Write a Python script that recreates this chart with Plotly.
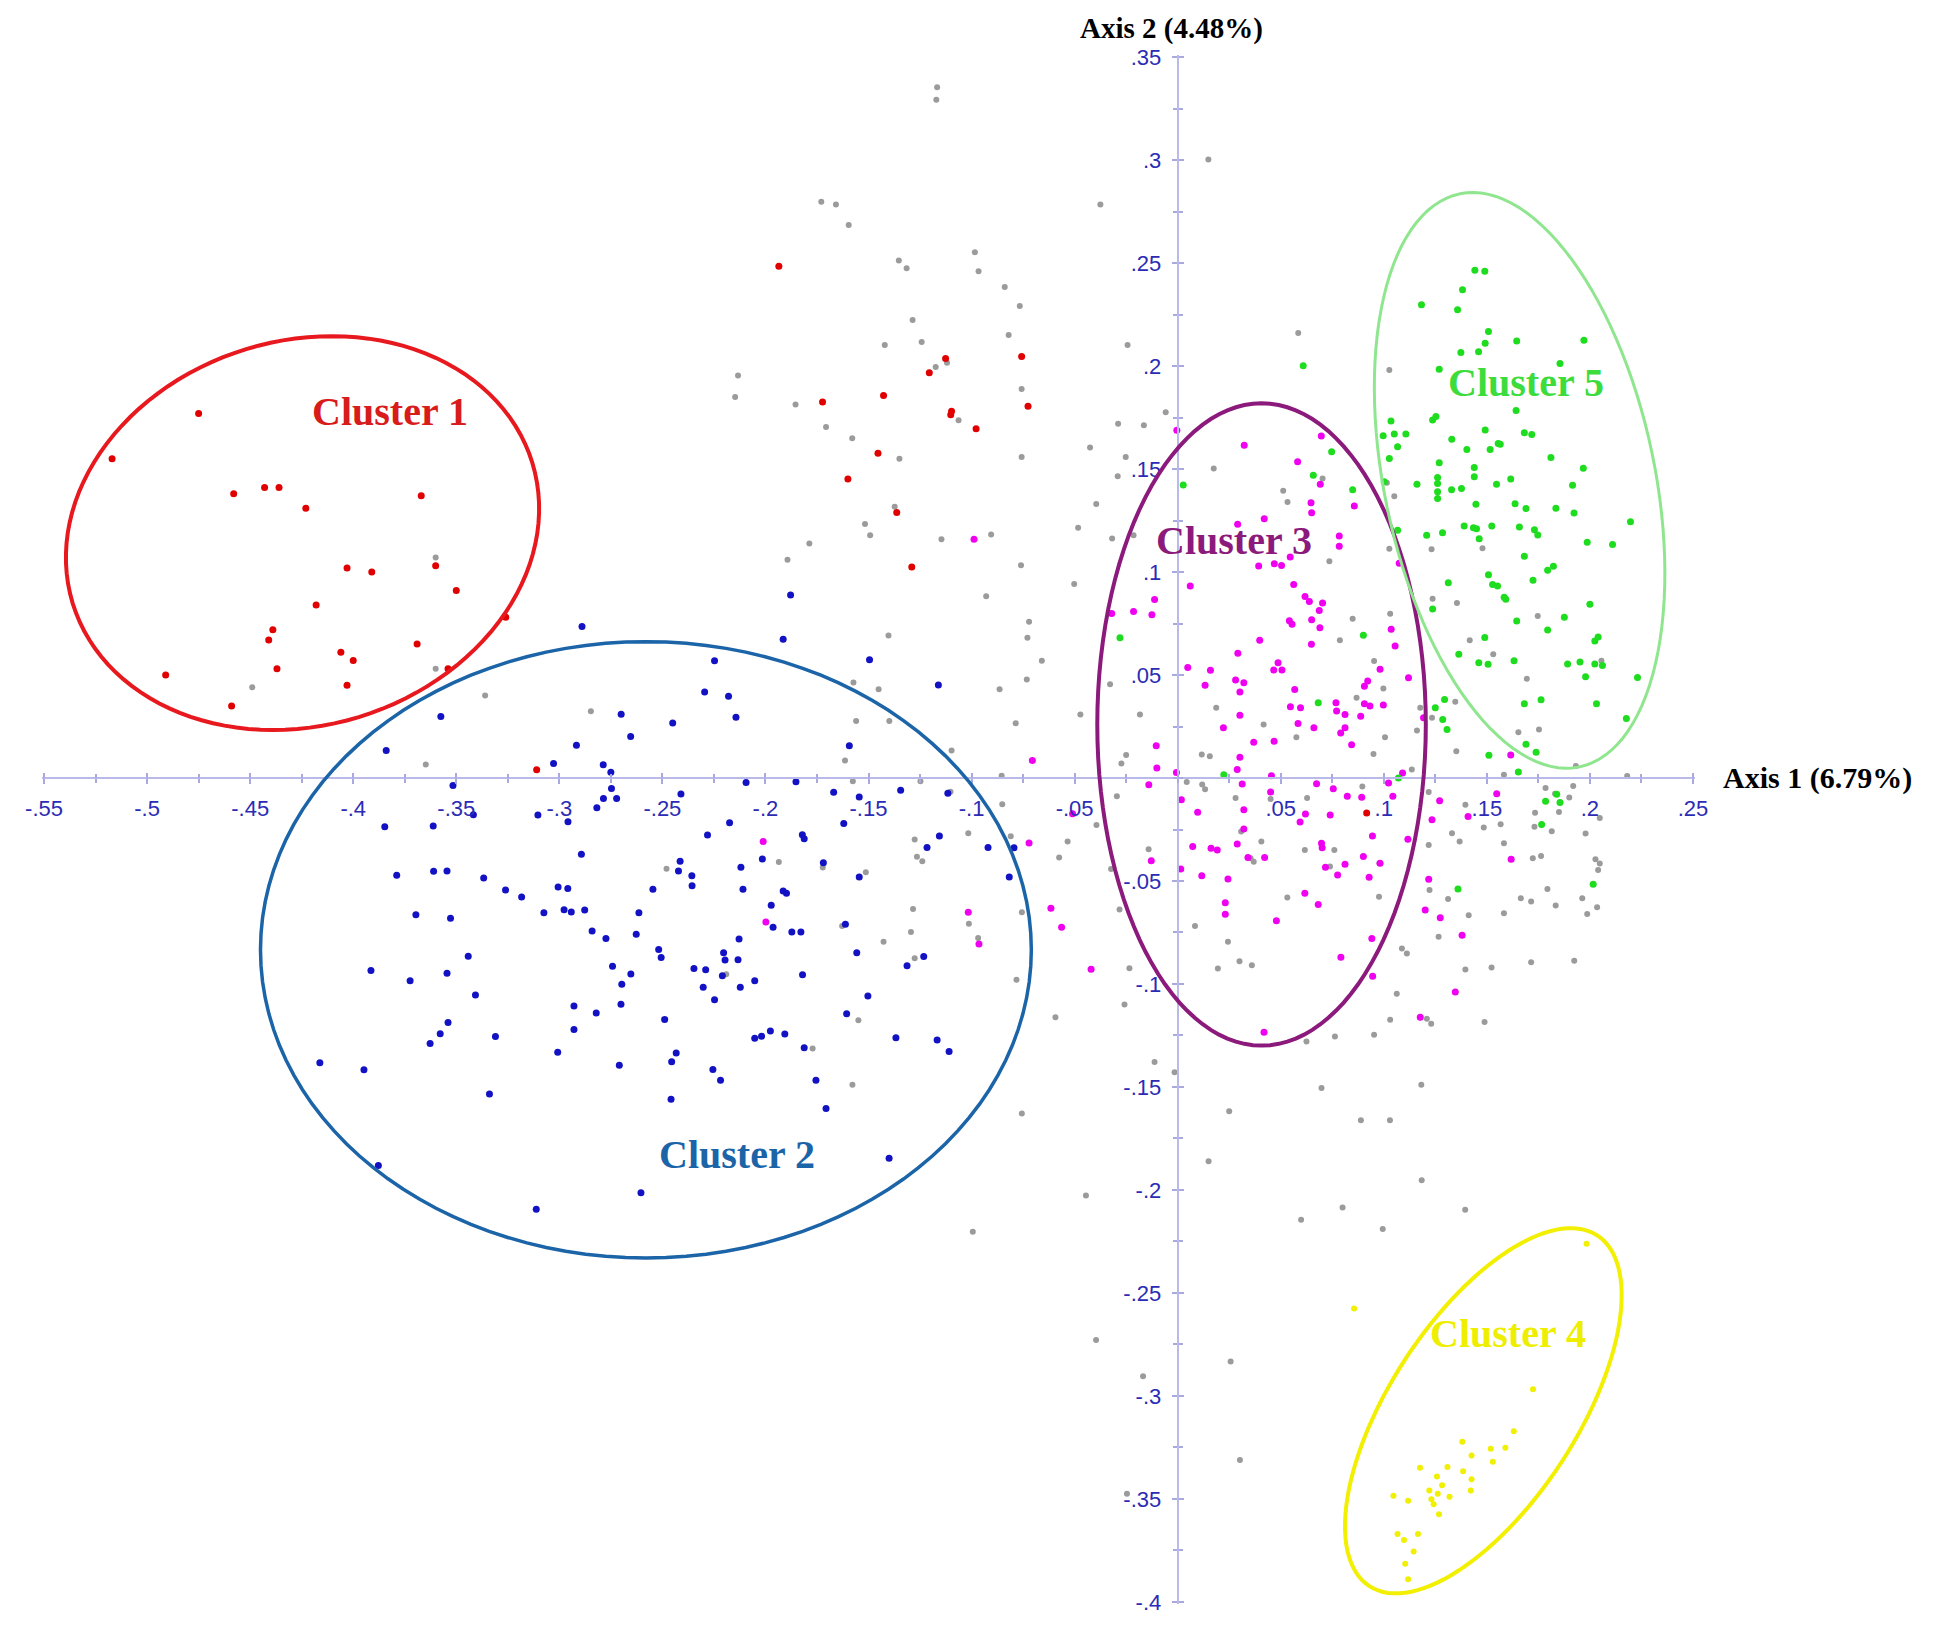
import numpy as np
import plotly.graph_objects as go

# ---- data ----
grey_pts = [
    (-0.360, 0.107), (-0.449, 0.044), (-0.360, 0.053), (-0.336, 0.040),
    (-0.3648, 0.0066), (-0.2847, 0.0324), (-0.248, -0.044),
    # upper middle
    (-0.1167, 0.3353), (-0.1171, 0.3293), (-0.1729, 0.2798), (-0.1658, 0.2784), (-0.1596, 0.2685),
    (-0.0375, 0.2784), (-0.0984, 0.2553), (-0.1353, 0.2512), (-0.1315, 0.2475), (-0.0966, 0.246),
    (-0.0839, 0.2384), (-0.0766, 0.2291), (-0.1286, 0.2224), (-0.082, 0.2151), (-0.1421, 0.2102),
    (-0.1242, 0.2117), (-0.0243, 0.2102), (-0.2133, 0.1954), (-0.2147, 0.185), (-0.1854, 0.1813),
    (-0.1706, 0.1704), (-0.1174, 0.1995), (-0.1119, 0.2016), (-0.0757, 0.1889), (-0.1063, 0.1737),
    (-0.0058, 0.1776), (-0.0289, 0.172), (-0.0164, 0.1712), (-0.1579, 0.1649), (-0.135, 0.155),
    (-0.0757, 0.1558), (-0.0425, 0.1605), (-0.0252, 0.1558), (-0.0291, 0.1465), (-0.0395, 0.133),
    (-0.1373, 0.1317), (-0.1517, 0.1233), (-0.1787, 0.1138), (-0.1492, 0.1179), (-0.1146, 0.1159),
    (-0.0905, 0.1182), (-0.0483, 0.1215), (-0.0318, 0.1163), (-0.0214, 0.1179), (-0.1893, 0.106),
    (-0.076, 0.1033),
    # middle, left of the vertical axis
    (-0.0502, 0.0942), (-0.0929, 0.0882), (-0.0721, 0.0759), (-0.1403, 0.0692), (-0.0729, 0.0681),
    (-0.0659, 0.0569), (-0.0732, 0.0478), (-0.1573, 0.0464), (-0.1451, 0.0431), (-0.0864, 0.0431),
    (-0.0472, 0.0308), (-0.0183, 0.0308), (-0.156, 0.0277), (-0.1399, 0.0277), (-0.0786, 0.0266),
    (-0.1097, 0.0134), (-0.1614, 0.0085), (-0.025, 0.0112), (-0.0273, 0.0071), (-0.0854, 0.0011),
    (-0.1248, -0.0016), (-0.1576, -0.0016), (-0.1102, -0.0067), (-0.0851, -0.0127), (-0.0295, -0.0089),
    (-0.0394, -0.0228), (-0.0534, -0.0308), (-0.081, -0.0283), (-0.1016, -0.0268), (-0.1276, -0.0299),
    (-0.1265, -0.0382), (-0.1239, -0.0404), (-0.0575, -0.0386), (-0.0141, -0.0346), (-0.0323, -0.0442),
    (-0.1935, -0.0408), (-0.1722, -0.0435), (-0.1513, -0.0458), (-0.1284, -0.0636), (-0.0756, -0.0652),
    (-0.0282, -0.0638), (-0.1013, -0.0708), (-0.0968, -0.0777), (-0.1294, -0.0748), (-0.1427, -0.0795),
    (-0.1628, -0.0719), (-0.1276, -0.0875), (-0.0782, -0.098), (-0.0234, -0.0924), (-0.0258, -0.11),
    (-0.0593, -0.1161), (-0.1549, -0.1176), (-0.1771, -0.1313), (-0.1578, -0.1489), (-0.0112, -0.1379),
    (-0.0015, -0.1429), (-0.0756, -0.1629), (-0.0445, -0.2027), (-0.0994, -0.2203), (-0.219, -0.0953),
    # upper right
    (0.0149, 0.3003), (0.0585, 0.216), (0.1027, 0.1981), (0.0175, 0.1503), (0.0703, 0.1454),
    (0.0512, 0.1394), (0.0533, 0.134), (0.1015, 0.1433), (0.1051, 0.1368), (0.1027, 0.1113),
    (0.0736, 0.1052), (0.1232, 0.111), (0.1479, 0.1116), (0.1237, 0.087), (0.1355, 0.0849),
    (0.0849, 0.0773), (0.1031, 0.0797),
    # around cluster 3
    (-0.0328, 0.0455), (0.0044, -0.0019), (0.0119, -0.0032), (0.0133, -0.0054), (0.0117, 0.0114),
    (0.0156, 0.0106), (0.0187, 0.0341), (0.0417, 0.026), (0.0576, 0.0198), (0.0787, 0.0669),
    (0.0953, 0.0568), (0.0998, 0.0435), (0.0868, 0.039), (0.1006, 0.0198), (0.095, 0.0117),
    (0.1161, 0.0231), (0.1136, 0.0041), (0.1177, 0.0341), (0.1234, 0.0292), (0.1347, 0.037),
    (0.1352, 0.013), (0.1417, 0.0669), (0.1531, 0.0601), (0.1583, 0.0016), (0.1218, -0.0068),
    (0.1396, -0.013), (0.1567, -0.0224), (0.1485, -0.024), (0.1331, -0.0268), (0.1368, -0.0308),
    (0.1218, -0.0325), (0.1583, -0.0317), (0.1222, -0.0544), (0.1312, -0.0588), (0.1412, -0.0666),
    (0.1583, -0.0657), (0.1266, -0.0771), (0.1088, -0.0828), (0.1112, -0.0852), (0.1396, -0.093),
    (0.1523, -0.092), (0.1063, -0.1047), (0.1031, -0.1174), (0.1209, -0.1169), (0.123, -0.1193),
    (0.1489, -0.1185), (0.0953, -0.1247), (0.0763, -0.1255), (0.0625, -0.1279), (0.1182, -0.1489),
    (0.0698, -0.1505), (0.0281, -0.0097), (0.0451, -0.0102), (0.0628, -0.0097), (0.0308, -0.026),
    (0.0354, -0.039), (0.0369, -0.0406), (0.0406, -0.0308), (0.0617, -0.0349), (0.076, -0.0349),
    (0.0979, -0.0414), (0.0739, -0.043), (0.0896, -0.0041), (0.0532, -0.058), (0.0977, -0.0576),
    (0.0084, -0.0718), (0.0244, -0.0795), (0.0195, -0.0925), (0.03, -0.089), (0.036, -0.0909),
    # right strip
    (0.1747, 0.0787), (0.1694, 0.0482), (0.2056, 0.0569), (0.1653, 0.0222), (0.1753, 0.0235),
    (0.1932, 0.0058), (0.2181, 0.001), (0.1785, -0.0048), (0.1919, -0.0039), (0.1831, -0.0077),
    (0.19, -0.0095), (0.185, -0.0165), (0.1734, -0.0169), (0.2048, -0.0194), (0.1731, -0.0237),
    (0.1815, -0.0258), (0.1979, -0.0269), (0.1723, -0.039), (0.1763, -0.0379), (0.2027, -0.0395),
    (0.2048, -0.0415), (0.204, -0.0447), (0.1794, -0.0539), (0.1665, -0.0584), (0.1715, -0.06),
    (0.1834, -0.0619), (0.1963, -0.0584), (0.2035, -0.0627), (0.1987, -0.066), (0.1715, -0.0894),
    (0.1924, -0.0887),
    # lower part
    (0.025, -0.1618), (0.0889, -0.1662), (0.103, -0.1662), (0.015, -0.186), (0.1184, -0.1953),
    (0.08, -0.2085), (0.1395, -0.2096), (0.0599, -0.2144), (0.0995, -0.219), (-0.0396, -0.2728),
    (0.0257, -0.2833), (-0.0168, -0.2904), (0.0302, -0.3311), (-0.0246, -0.3475),
]

red_pts = [
    (-0.475, 0.177), (-0.517, 0.155), (-0.458, 0.138), (-0.443, 0.141), (-0.436, 0.141),
    (-0.423, 0.131), (-0.367, 0.137), (-0.403, 0.102), (-0.391, 0.100), (-0.360, 0.103),
    (-0.350, 0.091), (-0.418, 0.084), (-0.326, 0.078), (-0.439, 0.072), (-0.441, 0.067),
    (-0.369, 0.065), (-0.406, 0.061), (-0.400, 0.057), (-0.437, 0.053), (-0.491, 0.050),
    (-0.403, 0.045), (-0.459, 0.035), (-0.354, 0.053), (-0.311, 0.004),
    (-0.1935, 0.2485), (-0.1723, 0.1826), (-0.1427, 0.1857), (-0.1205, 0.1967), (-0.1126, 0.2036),
    (-0.1097, 0.178), (-0.1101, 0.1764), (-0.0978, 0.1696), (-0.0757, 0.2046), (-0.0726, 0.1805),
    (-0.1454, 0.1576), (-0.16, 0.1452), (-0.1363, 0.1289), (-0.129, 0.1024), (0.0917, -0.017),
]

blue_pts = [
    (-0.289, 0.0736), (-0.3575, 0.0298), (-0.384, 0.0133), (-0.270, 0.0309), (-0.245, 0.0267),
    (-0.2654, 0.0201), (-0.2917, 0.0159), (-0.3028, 0.0070), (-0.2787, 0.0064), (-0.275, 0.0028),
    (-0.2747, -0.0051), (-0.2786, -0.0099), (-0.2722, -0.0099), (-0.2818, -0.0144), (-0.241, -0.0078),
    (-0.3516, -0.0036), (-0.3417, -0.0178), (-0.3104, -0.0180), (-0.2958, -0.0212), (-0.3847, -0.0237),
    (-0.3612, -0.0233), (-0.2893, -0.0370), (-0.3789, -0.0472), (-0.361, -0.0453), (-0.3545, -0.0451),
    (-0.3367, -0.0485), (-0.3261, -0.0544), (-0.3183, -0.0578), (-0.3006, -0.0529), (-0.2959, -0.0537),
    (-0.2414, -0.0404), (-0.2422, -0.0451), (-0.2357, -0.0474), (-0.2356, -0.0523), (-0.2546, -0.0540),
    (-0.3696, -0.0664), (-0.3528, -0.0681), (-0.3075, -0.0654), (-0.2977, -0.0639), (-0.2942, -0.0650),
    (-0.2877, -0.0641), (-0.2614, -0.0654), (-0.2841, -0.0743), (-0.2774, -0.0779), (-0.2627, -0.0758),
    (-0.2518, -0.0832), (-0.2506, -0.0872), (-0.2347, -0.0925), (-0.3442, -0.0865), (-0.3914, -0.0935),
    (-0.3724, -0.0984), (-0.3545, -0.0948), (-0.3407, -0.1054), (-0.2742, -0.0914), (-0.2653, -0.0952),
    (-0.2697, -0.1001), (-0.2701, -0.1098), (-0.2929, -0.1107), (-0.2821, -0.1141), (-0.2929, -0.1221),
    (-0.2489, -0.1172), (-0.354, -0.1187), (-0.3578, -0.1242), (-0.3627, -0.1289), (-0.331, -0.1255),
    (-0.3008, -0.1331), (-0.2709, -0.1394), (-0.2433, -0.1335), (-0.2455, -0.1378), (-0.2458, -0.1559),
    (-0.4162, -0.1382), (-0.3948, -0.1416), (-0.3339, -0.1534), (-0.3878, -0.1881), (-0.3112, -0.2093),
    (-0.2604, -0.2014),
    (-0.1878, 0.0888), (-0.1914, 0.0674), (-0.2247, 0.0569), (-0.1495, 0.0574), (-0.1161, 0.0451),
    (-0.2295, 0.0417), (-0.2179, 0.0397), (-0.2143, 0.0295), (-0.1593, 0.0156), (-0.2094, -0.0022),
    (-0.1852, -0.0018), (-0.1669, -0.0069), (-0.1545, -0.0092), (-0.1344, -0.006), (-0.1115, -0.0074),
    (-0.2174, -0.0217), (-0.2281, -0.0277), (-0.162, -0.0221), (-0.1821, -0.0275), (-0.1812, -0.0295),
    (-0.1156, -0.0281), (-0.1216, -0.0337), (-0.092, -0.0337), (-0.0794, -0.0339), (-0.0817, -0.048),
    (-0.1719, -0.0411), (-0.1545, -0.048), (-0.2015, -0.0393), (-0.2119, -0.0433), (-0.2109, -0.054),
    (-0.1914, -0.0549), (-0.1898, -0.056), (-0.1972, -0.0618), (-0.1963, -0.0725), (-0.1872, -0.0748),
    (-0.1828, -0.0748), (-0.1612, -0.071), (-0.2128, -0.0781), (-0.2203, -0.0848), (-0.2196, -0.0884),
    (-0.2133, -0.0882), (-0.229, -0.0931), (-0.2209, -0.096), (-0.2302, -0.1016), (-0.2122, -0.1016),
    (-0.2247, -0.1076), (-0.2052, -0.0984), (-0.182, -0.0955), (-0.1557, -0.0848), (-0.1313, -0.0911),
    (-0.1232, -0.0866), (-0.1503, -0.1058), (-0.1606, -0.1145), (-0.2052, -0.1263), (-0.2019, -0.1254),
    (-0.1976, -0.1228), (-0.1906, -0.1243), (-0.1812, -0.131), (-0.1367, -0.1261), (-0.1167, -0.1272),
    (-0.1109, -0.1328), (-0.2255, -0.1415), (-0.2218, -0.1467), (-0.1755, -0.1467), (-0.1706, -0.1605),
    (-0.14, -0.1846),
]

magenta_pts = [
    (-0.0988, 0.1159), (-0.0004, 0.1688),
    (-0.2011, -0.0308), (-0.1998, -0.0699), (-0.0705, 0.0085), (-0.0721, -0.0315), (-0.1016, -0.0652),
    (-0.0964, -0.0806), (-0.0615, -0.0632), (-0.0563, -0.0725), (-0.042, -0.0929), (-0.051, -0.0174),
    (-0.032, 0.0799), (-0.0214, 0.0808), (-0.0125, 0.0792), (-0.0112, 0.0866), (-0.0104, 0.0156),
    (-0.0101, 0.0049), (-0.0006, 0.0027), (-0.014, -0.0033), (0.0018, -0.0105), (-0.0128, -0.0402),
    (0.0015, -0.0442),
    (0.0323, 0.1616), (0.0582, 0.1535), (0.0697, 0.166), (0.0692, 0.1426), (0.0647, 0.1336),
    (0.065, 0.1288), (0.0857, 0.1321), (0.042, 0.1259), (0.0291, 0.1232), (0.0784, 0.1175),
    (0.0784, 0.1125), (0.0546, 0.1073), (0.0393, 0.1029), (0.0469, 0.104), (0.0504, 0.1032),
    (0.1075, 0.1043), (0.0061, 0.0932), (0.0563, 0.094), (0.0618, 0.0881), (0.0639, 0.0857),
    (0.0703, 0.0849), (0.0687, 0.0813), (0.0542, 0.0764), (0.065, 0.0768),
    (0.0398, 0.0669), (0.0292, 0.0606), (0.0049, 0.0536), (0.0159, 0.0523), (0.0133, 0.045),
    (0.0281, 0.0476), (0.0321, 0.0463), (0.0302, 0.0417), (0.0302, 0.0305), (0.0222, 0.0244),
    (0.0369, 0.0174), (0.0468, 0.0179), (0.0487, 0.056), (0.0466, 0.0524), (0.0506, 0.0524),
    (0.0568, 0.043), (0.0547, 0.0346), (0.0596, 0.0341), (0.0584, 0.0265), (0.0661, 0.0244),
    (0.0555, 0.0747), (0.069, 0.073), (0.0649, 0.0649), (0.0768, 0.0365), (0.0771, 0.0325),
    (0.0812, 0.0308), (0.0791, 0.0219), (0.0812, 0.0244), (0.0844, 0.0162), (0.0888, 0.03),
    (0.0906, 0.036), (0.0933, 0.0349), (0.0906, 0.0446), (0.0922, 0.0471), (0.0982, 0.0528),
    (0.0998, 0.0354), (0.1036, 0.0722), (0.1055, 0.0641), (0.112, 0.0487), (0.1193, 0.0292),
    (0.0302, 0.0101), (0.0289, 0.0041), (0.0313, -0.0029), (0.0455, 0.0011), (0.0451, -0.0068),
    (0.0097, -0.0166), (0.0321, -0.0154), (0.0674, -0.0028), (0.0755, -0.0052), (0.0823, -0.0089),
    (0.0893, -0.0094), (0.1023, -0.0024), (0.1044, -0.0089), (0.1091, 0.0024), (0.0594, -0.0214),
    (0.062, -0.0175), (0.074, -0.0179), (0.0321, -0.0247), (0.0289, -0.0321), (0.0341, -0.0386),
    (0.0422, -0.0386), (0.0073, -0.0333), (0.0162, -0.0341), (0.0192, -0.0349), (0.0698, -0.0317),
    (0.0701, -0.0338), (0.0812, -0.0419), (0.0717, -0.0433), (0.0776, -0.0471), (0.0901, -0.0381),
    (0.0945, -0.0281), (0.0982, -0.0414), (0.1117, -0.0297), (0.0929, -0.0482), (0.0117, -0.0474),
    (0.0244, -0.049), (0.0231, -0.0606), (0.0231, -0.0662), (0.0479, -0.0693), (0.0617, -0.056),
    (0.0682, -0.0614), (0.0942, -0.0779), (0.0792, -0.087), (0.0946, -0.0963), (0.0419, -0.1234),
    (0.1271, -0.011), (0.1234, -0.0203), (0.1218, -0.0492), (0.1201, -0.0641), (0.1274, -0.0679),
    (0.138, -0.0763), (0.1347, -0.1039), (0.1177, -0.1161), (0.1409, -0.0187),
    (0.1616, 0.0112), (0.1548, -0.0076), (0.1618, -0.0395),
]

green_pts = [
    (0.0027, 0.1423), (-0.028, 0.0681),
    (0.0609, 0.2001), (0.0658, 0.147), (0.0747, 0.1584), (0.0849, 0.14), (0.1442, 0.2465),
    (0.149, 0.246), (0.1382, 0.237), (0.1183, 0.2298), (0.1358, 0.2273), (0.1508, 0.2168),
    (0.1492, 0.2111), (0.1374, 0.2066), (0.146, 0.2069), (0.1269, 0.1984), (0.1035, 0.1733),
    (0.1237, 0.1738), (0.1253, 0.1755), (0.0997, 0.1662), (0.1051, 0.167), (0.1107, 0.167),
    (0.1067, 0.1608), (0.1027, 0.1551), (0.133, 0.1644), (0.1403, 0.1595), (0.1492, 0.1689),
    (0.1555, 0.1624), (0.1516, 0.1595), (0.1269, 0.153), (0.1261, 0.1459), (0.1161, 0.1426),
    (0.1261, 0.143), (0.1261, 0.139), (0.1261, 0.1357), (0.1439, 0.1507), (0.1439, 0.1462),
    (0.1329, 0.14), (0.1377, 0.1405), (0.1447, 0.1329), (0.1547, 0.1426), (0.1002, 0.1438),
    (0.1067, 0.1203), (0.1208, 0.1178), (0.1285, 0.1191), (0.139, 0.1224), (0.1435, 0.1215),
    (0.145, 0.121), (0.1524, 0.1224), (0.1463, 0.1162), (0.1508, 0.0987), (0.1528, 0.094),
    (0.1552, 0.0932), (0.1313, 0.0948), (0.1584, 0.0878), (0.1237, 0.0821),
    (0.0224, 0.0016), (0.0682, 0.0365), (0.0901, 0.0693), (0.1071, 0.0), (0.1364, 0.0601),
    (0.149, 0.0682), (0.1461, 0.056), (0.1506, 0.0552), (0.125, 0.0341), (0.1295, 0.0381),
    (0.1286, 0.0284), (0.1307, 0.0235), (0.151, 0.011), (0.136, -0.0539),
    (0.1645, 0.2122), (0.1971, 0.2125), (0.1855, 0.2012), (0.1642, 0.1784), (0.1682, 0.1676),
    (0.1718, 0.1668), (0.1565, 0.162), (0.1811, 0.1556), (0.1968, 0.1504), (0.1616, 0.1452),
    (0.1916, 0.1421), (0.169, 0.1308), (0.1637, 0.1331), (0.1835, 0.131), (0.1923, 0.1286),
    (0.1658, 0.1219), (0.1731, 0.1205), (0.1747, 0.118), (0.2197, 0.1244), (0.1987, 0.1144),
    (0.211, 0.1134), (0.1682, 0.1076), (0.1795, 0.1009), (0.1823, 0.1028), (0.1724, 0.096),
    (0.1592, 0.0868), (0.2, 0.0843), (0.1876, 0.0781), (0.1645, 0.0762), (0.1795, 0.0719),
    (0.2024, 0.0665), (0.204, 0.0685), (0.1632, 0.0569), (0.1892, 0.0554), (0.1952, 0.0563),
    (0.2024, 0.0554), (0.2061, 0.0546), (0.1979, 0.0492), (0.2231, 0.0488), (0.1682, 0.0361),
    (0.1763, 0.038), (0.2032, 0.0361), (0.2177, 0.0289), (0.169, 0.0164), (0.1739, 0.0125),
    (0.1653, 0.0029),
    (0.1785, -0.0113), (0.1839, -0.0079), (0.1855, -0.0119), (0.1766, -0.0226), (0.2016, -0.0516),
]

yellow_pts = [
    (0.0856, -0.2575), (0.1984, -0.2261), (0.1724, -0.2968), (0.1631, -0.3171), (0.1381, -0.3222),
    (0.1519, -0.3256), (0.159, -0.3252), (0.1426, -0.3289), (0.1529, -0.332), (0.1176, -0.3349),
    (0.1309, -0.3345), (0.1385, -0.3365), (0.1258, -0.3391), (0.1426, -0.3404), (0.1283, -0.3433),
    (0.1221, -0.3459), (0.1262, -0.3475), (0.1319, -0.3489), (0.1231, -0.3501), (0.1422, -0.3459),
    (0.1242, -0.3526), (0.1268, -0.3574), (0.1047, -0.3484), (0.1118, -0.3509), (0.1067, -0.367),
    (0.1098, -0.3699), (0.1166, -0.367), (0.1145, -0.3755), (0.1104, -0.3814), (0.1118, -0.389),
]

x_tickvals = [-0.55, -0.5, -0.45, -0.4, -0.35, -0.3, -0.25, -0.2, -0.15, -0.1, -0.05,
              0.05, 0.1, 0.15, 0.2, 0.25]
x_ticktext = ["-.55", "-.5", "-.45", "-.4", "-.35", "-.3", "-.25", "-.2", "-.15", "-.1", "-.05",
              ".05", ".1", ".15", ".2", ".25"]
y_tickvals = [0.35, 0.3, 0.25, 0.2, 0.15, 0.1, 0.05,
              -0.05, -0.1, -0.15, -0.2, -0.25, -0.3, -0.35, -0.4]
y_ticktext = [".35", ".3", ".25", ".2", ".15", ".1", ".05",
              "-.05", "-.1", "-.15", "-.2", "-.25", "-.3", "-.35", "-.4"]

cluster_names = ["Cluster 1", "Cluster 2", "Cluster 3", "Cluster 4", "Cluster 5"]

# ellipse geometry: centre, semi axes, rotation of first axis (deg)
ellipses = [
    dict(cx=-0.4246, cy=0.1189, a=0.1166, b=0.0934, rot=17, color="#e8191e", width=4),
    dict(cx=-0.258, cy=-0.0834, a=0.187, b=0.1496, rot=0, color="#1c64a8", width=3.5),
    dict(cx=0.0407, cy=0.026, a=0.0797, b=0.1559, rot=0, color="#8c1a7c", width=4),
    dict(cx=0.1483, cy=-0.3072, a=0.1015, b=0.0454, rot=57, color="#f2f000", width=4),
    dict(cx=0.1659, cy=0.1445, a=0.1421, b=0.0656, rot=101.8, color="#8fe68f", width=3),
]
label_pos = [(-0.382, 0.178), (-0.214, -0.1826), (0.0272, 0.1155), (0.1601, -0.2697), (0.1688, 0.1922)]
label_col = ["#d81b1b", "#1c64a8", "#8c1a7c", "#eeee00", "#3ddc3d"]

X_RANGE = [-0.551, 0.251]
Y_RANGE = [-0.401, 0.351]


def ellipse_path(cx, cy, a, b, rot):
    t = np.linspace(0, 2 * np.pi, 121)
    r = np.deg2rad(rot)
    xs = cx + a * np.cos(t) * np.cos(r) - b * np.sin(t) * np.sin(r)
    ys = cy + a * np.cos(t) * np.sin(r) + b * np.sin(t) * np.cos(r)
    pts = [f"{x:.5f},{y:.5f}" for x, y in zip(xs, ys)]
    return "M " + " L ".join(pts) + " Z"


def add_group(fig, pts, color, size):
    fig.add_trace(go.Scatter(
        x=[p[0] for p in pts], y=[p[1] for p in pts],
        mode="markers", hoverinfo="skip",
        marker=dict(color=color, size=size, line=dict(width=0)),
    ))


fig = go.Figure()
add_group(fig, grey_pts, "#9b9b9b", 6)
add_group(fig, red_pts, "#e00000", 7)
add_group(fig, blue_pts, "#1212c4", 7)
add_group(fig, magenta_pts, "#f000f0", 7)
add_group(fig, green_pts, "#1edc1e", 7)
add_group(fig, yellow_pts, "#f0f000", 6)
# empty trace so the second (inside-tick) axes get drawn
fig.add_trace(go.Scatter(x=[], y=[], xaxis="x2", yaxis="y2", hoverinfo="skip"))

for e in ellipses:
    fig.add_shape(type="path", xref="x", yref="y",
                  path=ellipse_path(e["cx"], e["cy"], e["a"], e["b"], e["rot"]),
                  line=dict(color=e["color"], width=e["width"]))

for name, (lx, ly), col in zip(cluster_names, label_pos, label_col):
    fig.add_annotation(x=lx, y=ly, text=f"<b>{name}</b>", showarrow=False,
                       font=dict(family="Liberation Serif", size=40, color=col))

fig.add_annotation(x=X_RANGE[1], y=0, text="<b>Axis 1 (6.79%)</b>", showarrow=False,
                   xanchor="left", xshift=26, font=dict(family="Liberation Serif", size=30, color="black"))
fig.add_annotation(x=0, y=Y_RANGE[1], text="<b>Axis 2 (4.48%)</b>", showarrow=False,
                   yanchor="middle", yshift=27, xshift=-6,
                   font=dict(family="Liberation Serif", size=29, color="black"))

x_pos = (0 - Y_RANGE[0]) / (Y_RANGE[1] - Y_RANGE[0])
y_pos = (0 - X_RANGE[0]) / (X_RANGE[1] - X_RANGE[0])
tick_col = "#a9a9e0"

axis_common = dict(
    showgrid=False, zeroline=False, showline=True, linecolor="#b9b9ea", linewidth=2,
    ticks="outside", ticklen=5, tickwidth=1.5, tickcolor=tick_col, ticklabelstandoff=6,
    tickfont=dict(family="Liberation Sans", size=22, color="#2b2bb5"),
    minor=dict(ticks="outside", tickmode="linear", tick0=0, dtick=0.025, ticklen=4,
               tickcolor=tick_col, tickwidth=1.5),
    anchor="free",
)
inner_common = dict(
    showgrid=False, zeroline=False, showline=False, showticklabels=False,
    ticks="inside", ticklen=5, tickwidth=1.5, tickcolor=tick_col,
    minor=dict(ticks="inside", tickmode="linear", tick0=0, dtick=0.025, ticklen=4,
               tickcolor=tick_col, tickwidth=1.5),
    anchor="free",
)

fig.update_layout(
    width=1934, height=1619,
    margin=dict(l=34, r=247, t=47, b=23, autoexpand=False),
    paper_bgcolor="white", plot_bgcolor="white",
    showlegend=False,
    xaxis=dict(range=X_RANGE, tickmode="array", tickvals=x_tickvals, ticktext=x_ticktext,
               position=x_pos, **axis_common),
    yaxis=dict(range=Y_RANGE, tickmode="array", tickvals=y_tickvals, ticktext=y_ticktext,
               position=y_pos, **axis_common),
    xaxis2=dict(range=X_RANGE, overlaying="x", tickmode="array", tickvals=x_tickvals,
                position=x_pos, **inner_common),
    yaxis2=dict(range=Y_RANGE, overlaying="y", tickmode="array", tickvals=y_tickvals,
                position=y_pos, **inner_common),
)

fig.write_html("out.html")
